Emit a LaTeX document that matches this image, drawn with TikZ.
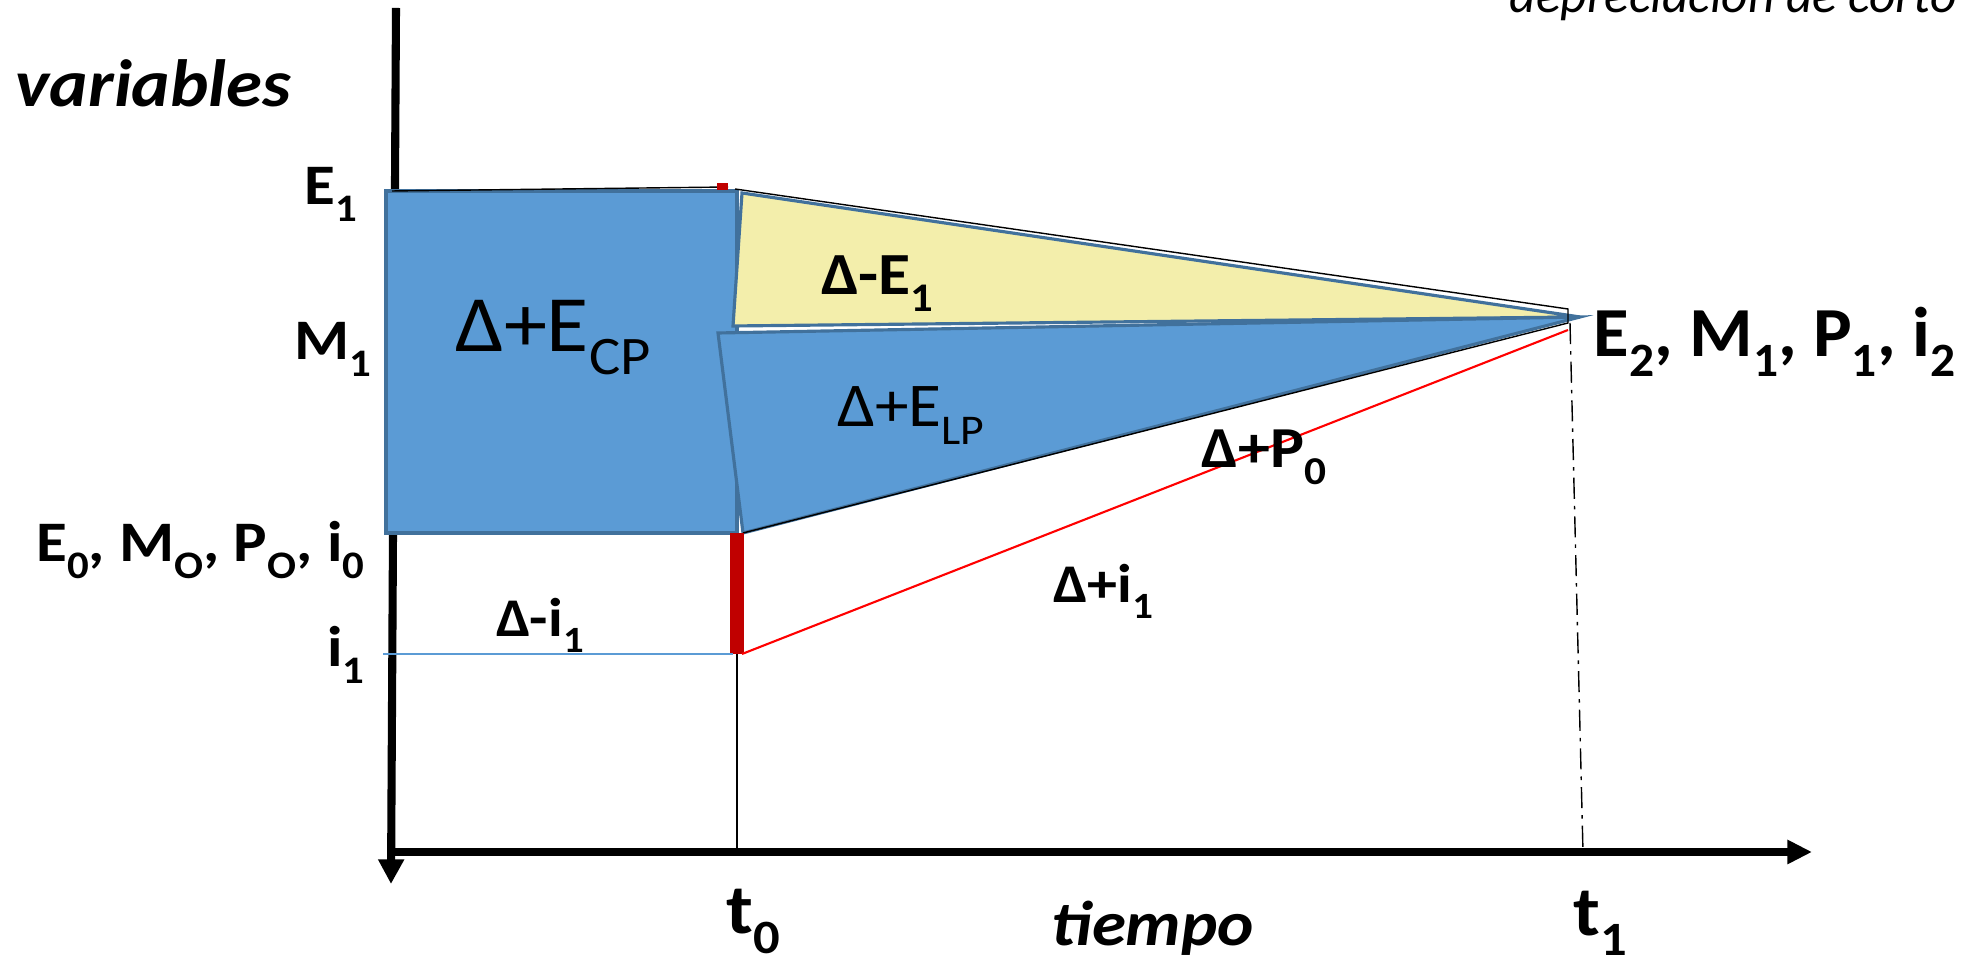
\documentclass[tikz,border=0pt]{standalone}
\usepackage{fontspec}
\setmainfont{Carlito}
\usetikzlibrary{arrows.meta, calc}
\definecolor{cFill}{RGB}{91,155,213}
\definecolor{cEdge}{RGB}{65,113,156}
\definecolor{cYel}{RGB}{243,238,171}
\definecolor{cRed}{RGB}{192,0,0}
\newcommand{\dn}[1]{\raisebox{-0.28em}{\scalebox{0.68}{#1}}}

\begin{document}
\begin{tikzpicture}[x=0.01cm, y=-0.01cm,
    lbl/.style={inner sep=0pt, transform shape, xscale=1.1, font=\bfseries\fontsize{#1}{#1}\selectfont},
    reg/.style={inner sep=0pt, transform shape, xscale=1.08, font=\fontsize{#1}{#1}\selectfont},
    ital/.style={inner sep=0pt, transform shape, xscale=1.09, font=\bfseries\itshape\fontsize{#1}{#1}\selectfont},
    note/.style={inner sep=0pt, font=\itshape\fontsize{#1}{#1}\selectfont},
    area/.style={draw=cEdge, line width=0.9pt, line join=miter}]
    \useasboundingbox (0,0) rectangle (1972,965);

    % Key points
    \coordinate (O) at (391,852);
    \coordinate (ytop) at (396,8);
    \coordinate (ybot) at (391,884);
    \coordinate (xend) at (1812,852);
    \coordinate (E1) at (386,191);
    \coordinate (T0) at (737,533);
    \coordinate (V) at (1580,317);
    \coordinate (I1) at (737,654);
    \coordinate (T1) at (1583,852);

    % Axes
    \draw[line width=2.3pt, -{Triangle[length=7pt, width=7pt]}] (ytop) -- (ybot);
    \draw[line width=2.2pt, -{Triangle[length=7pt, width=6.5pt]}] (O) -- (xend);

    % Short run block and wedges
    \draw[area, fill=cFill] (E1) rectangle (T0);
    \draw[area, fill=cYel] (742,193) -- (733,326) -- (V) -- cycle;
    \draw[area, fill=cFill] (718,333) -- (743,533) -- (V) -- cycle;

    % Thin paths to the new level
    \draw[line width=0.4pt] (392,191) -- (728,187);
    \draw[line width=0.4pt] (735,189) -- (1568,309) -- (1568,323) -- (743,533);

    % Interest rate jump
    \fill[cRed] (717,183) rectangle (728,190);
    \draw[cRed, line width=3.8pt] (T0) -- (I1);
    \draw[red, line width=0.6pt] (742,654) -- (1568,330);
    \draw[cFill, line width=0.7pt] (383,654) -- (733,654);

    % Time markers
    \draw[line width=0.3pt] (I1) -- (O -| I1);
    \draw[line width=0.4pt, dash pattern=on 6pt off 2pt on 1pt off 2pt] (1570,323) -- (T1);

    % Labels
    \node[ital=19, anchor=base west] (vars) at (15,107) {variables};
    \node[note=14.6, anchor=base west] (dep) at (1509,13) {depreciación de corto};
    \node[lbl=16.3, anchor=base east] (lE1) at (358,205) {E\dn{1}};
    \node[lbl=16.3, anchor=base east] (lM1) at (372,360) {M\dn{1}};
    \node[lbl=16.3, anchor=base east] (lE0) at (365,562) {E\dn{0}, M\dn{O}, P\dn{O}, i\dn{0}};
    \node[lbl=16.3, anchor=base east] (li1) at (365,667) {i\dn{1}};
    \node[lbl=15.5, anchor=base] (dI1) at (540,637) {Δ-i\dn{1}};
    \node[reg=22.7, anchor=base] (dECP) at (553,352) {Δ+E\dn{CP}};
    \node[lbl=17, anchor=base] (dE1) at (877,295) {Δ-E\dn{1}};
    \node[reg=17.7, anchor=base] (dELP) at (911,427) {Δ+E\dn{LP}};
    \node[lbl=16.5, anchor=base] (dP0) at (1264,468) {Δ+P\dn{0}};
    \node[lbl=15.5, anchor=base] (di1) at (1103,603) {Δ+i\dn{1}};
    \node[lbl=20, xscale=0.94, anchor=base west] (lE2) at (1593,357) {E\dn{2}, M\dn{1}, P\dn{1}, i\dn{2}};
    \node[lbl=20, anchor=base] (lt0) at (753,934) {t\dn{0}};
    \node[ital=18, anchor=base] (lt) at (1153,946) {tiempo};
    \node[lbl=20, anchor=base] (lt1) at (1600,936) {t\dn{1}};
\end{tikzpicture}
\end{document}
